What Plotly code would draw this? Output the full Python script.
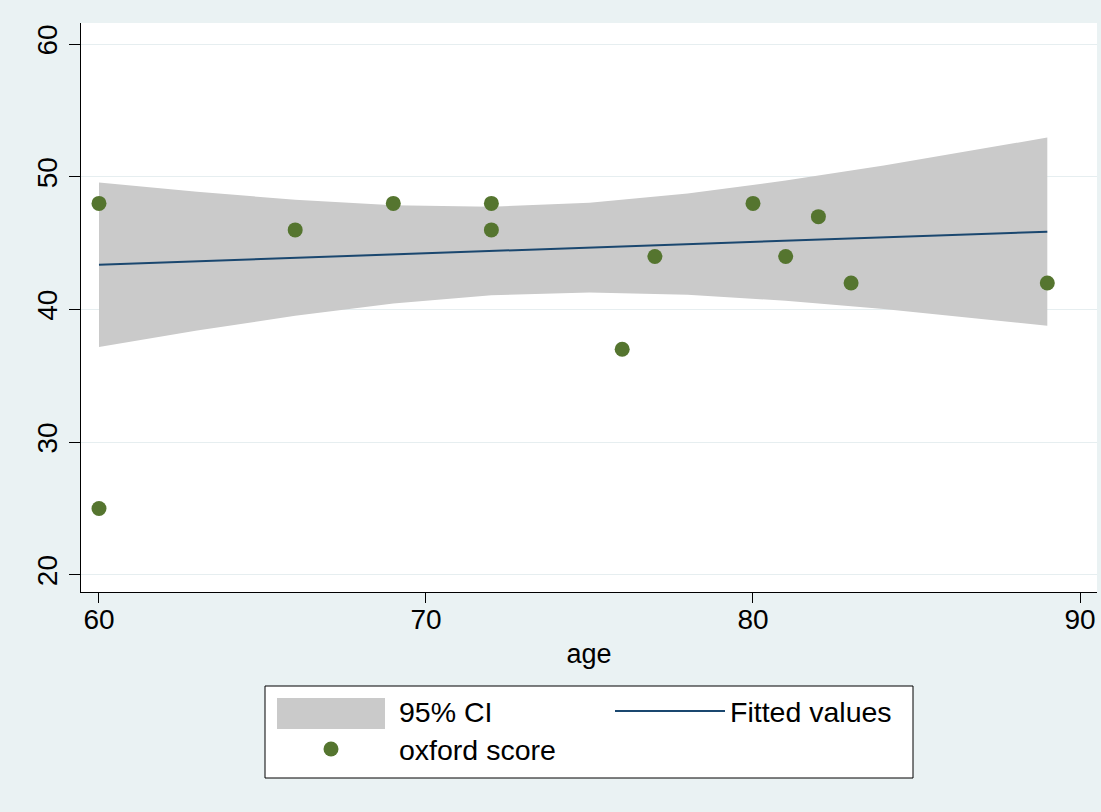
import plotly.graph_objects as go

# observed data
age = [60, 60, 66, 69, 72, 72, 76, 77, 80, 81, 82, 83, 89]
oxford_score = [48, 25, 46, 48, 48, 46, 37, 44, 48, 44, 47, 42, 42]

# fitted line and 95% CI
fit_age = [60, 63, 66, 69, 72, 75, 78, 81, 84, 87, 89]
fitted = [43.38, 43.64, 43.90, 44.15, 44.41, 44.67, 44.93, 45.19, 45.45, 45.70, 45.87]
ci_lower = [37.18, 38.41, 39.53, 40.45, 41.07, 41.29, 41.12, 40.66, 40.04, 39.30, 38.78]
ci_upper = [49.58, 48.87, 48.27, 47.85, 47.75, 48.05, 48.74, 49.72, 50.86, 52.10, 52.96]

x_ticks = [60, 70, 80, 90]
y_ticks = [20, 30, 40, 50, 60]

FONT = "Liberation Sans, Arial, sans-serif"
BAND = "#CACACA"
NAVY = "#1A476F"
GREEN = "#55752F"

W, H = 1101, 812
ML, MR, MT, MB = 81, 4, 23, 220
PW, PH = W - ML - MR, H - MT - MB


def px_x(p):  # pixel -> paper x
    return (p - ML) / PW


def px_y(p):  # pixel -> paper y
    return (H - MB - p) / PH


fig = go.Figure()
fig.add_trace(go.Scatter(x=fit_age, y=ci_lower, mode="lines", line=dict(width=0, color=BAND),
                         showlegend=False, hoverinfo="skip"))
fig.add_trace(go.Scatter(x=fit_age, y=ci_upper, mode="lines", line=dict(width=0, color=BAND),
                         fill="tonexty", fillcolor=BAND, showlegend=False))
# legend entry for the CI band (its block swatch is drawn as a shape below)
fig.add_trace(go.Scatter(x=[None], y=[None], mode="lines", line=dict(width=0, color="rgba(0,0,0,0)"),
                         name="95% CI", legend="legend"))
fig.add_trace(go.Scatter(x=fit_age, y=fitted, mode="lines", line=dict(width=2, color=NAVY),
                         name="Fitted values", legend="legend2"))
fig.add_trace(go.Scatter(x=age, y=oxford_score, mode="markers",
                         marker=dict(size=15, color=GREEN), name="oxford score", legend="legend3"))

shapes = [
    # legend box
    dict(type="rect", xref="paper", yref="paper", layer="above",
         x0=px_x(265), x1=px_x(913), y0=px_y(686), y1=px_y(778),
         fillcolor="#FFFFFF", line=dict(color="#000000", width=1)),
    # CI swatch
    dict(type="rect", xref="paper", yref="paper", layer="above",
         x0=px_x(277), x1=px_x(385), y0=px_y(698), y1=px_y(729),
         fillcolor=BAND, line=dict(width=0)),
]


def leg(x_px, y_px, itemwidth):
    return dict(
        orientation="h", xref="container", yref="container",
        x=x_px / W, xanchor="left", y=1 - y_px / H, yanchor="top",
        bgcolor="rgba(0,0,0,0)", borderwidth=0, itemwidth=itemwidth,
        font=dict(size=28.5),
    )


fig.update_layout(
    width=W, height=H,
    margin=dict(l=ML, r=MR, t=MT, b=MB),
    paper_bgcolor="#EAF2F3",
    plot_bgcolor="#FFFFFF",
    font=dict(family=FONT, size=28, color="#000000"),
    shapes=shapes,
    legend=leg(277, 686, 112),
    legend2=leg(610, 686, 110),
    legend3=leg(263, 724, 126),
    xaxis=dict(
        range=[59.45, 90.52], tickvals=x_ticks, showgrid=False, zeroline=False,
        showline=True, linecolor="#000000", linewidth=1, automargin=False,
        ticks="outside", ticklen=10, tickcolor="#000000",
        title=dict(text="age", standoff=10, font=dict(size=27)),
        tickfont=dict(size=28), ticklabelstandoff=-8,
    ),
    yaxis=dict(
        range=[18.7, 61.6], tickvals=y_ticks, showgrid=True, gridcolor="#E6EEF0", gridwidth=1,
        zeroline=False, showline=True, linecolor="#000000", linewidth=1, automargin=False,
        ticks="outside", ticklen=11, tickcolor="#000000",
        tickangle=-90, tickfont=dict(size=28), ticklabelstandoff=1,
    ),
)

fig.write_html("out.html", config={"displayModeBar": False},
               post_script="document.body.style.margin='0';document.body.style.padding='0';")
